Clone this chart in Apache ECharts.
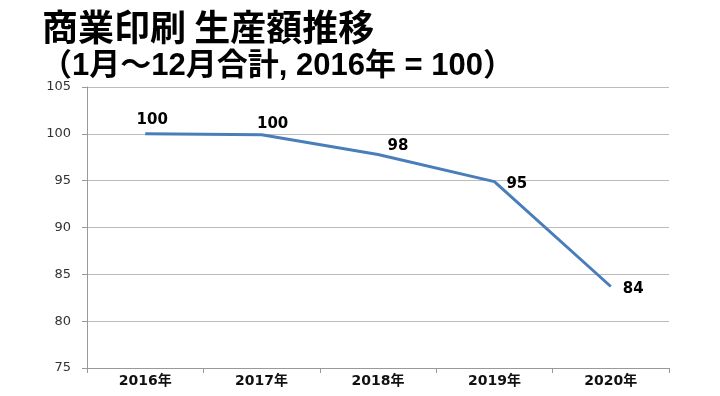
<!DOCTYPE html>
<html><head><meta charset="utf-8">
<script src="https://cdn.jsdelivr.net/npm/echarts@6/dist/echarts.min.js"></script>
<style>html,body{margin:0;padding:0;background:#fff}#c{width:720px;height:396px}</style>
</head><body><div id="c"></div>
<script>
const categories = ['2016年','2017年','2018年','2019年','2020年'];
const values = [100.0, 99.9, 97.8, 94.9, 83.7];
const pointLabels = ['100','100','98','95','84'];
const yTicks = {min: 75, max: 105, interval: 5};

const labelShift = [[7,0],[11,3],[20,5],[6,3],[6,3]];
const labelPos = ['top','top','top','right','right'];

const chart = echarts.init(document.getElementById('c'), null, {renderer:'canvas'});
const cjk = '"Noto Sans CJK JP", sans-serif';
const mix = '"Liberation Sans", "Noto Sans CJK JP", sans-serif';
const dv = '"DejaVu Sans", "Noto Sans CJK JP", sans-serif';
chart.setOption({
  animation: false,
  title: [
    {text: '商業印刷 生産額推移', left: 37, top: 4,
     textStyle: {fontSize: 36, fontWeight: 'bold', color: '#000', fontFamily: cjk}},
    {text: '（1月〜12月合計, 2016年 = 100）', left: 36, top: 46,
     textStyle: {fontSize: 31, fontWeight: 'bold', color: '#000', fontFamily: mix}}
  ],
  grid: {left: 87, right: 51, top: 87, bottom: 28},
  xAxis: {
    type: 'category', data: categories, boundaryGap: true,
    axisLine: {lineStyle: {color: '#999', width: 1}},
    axisTick: {show: true, alignWithLabel: false, length: 5, lineStyle: {color: '#999'}},
    axisLabel: {color: '#111', fontSize: 14, fontWeight: 'bold', fontFamily: dv, margin: 6}
  },
  yAxis: {
    type: 'value', min: yTicks.min, max: yTicks.max, interval: yTicks.interval,
    axisLine: {show: true, lineStyle: {color: '#999', width: 1}},
    axisTick: {show: true, length: 5, lineStyle: {color: '#999'}},
    axisLabel: {color: '#333', fontSize: 13, fontFamily: dv, margin: 16},
    splitLine: {lineStyle: {color: '#bbb', width: 1}}
  },
  series: [{
    type: 'line', symbol: 'circle', symbolSize: 2, showSymbol: true,
    itemStyle: {color: 'rgba(74,126,187,0)'},
    lineStyle: {color: '#4a7ebb', width: 3},
    labelLayout: function (p) {
      const s = labelShift[p.dataIndex];
      return {dx: s[0], dy: s[1], hideOverlap: false};
    },
    data: values.map((v, i) => ({
      value: v,
      label: {show: true, position: labelPos[i],
        formatter: pointLabels[i], fontSize: 15, fontWeight: 'bold', color: '#000', fontFamily: dv}
    }))
  }]
});
</script></body></html>
